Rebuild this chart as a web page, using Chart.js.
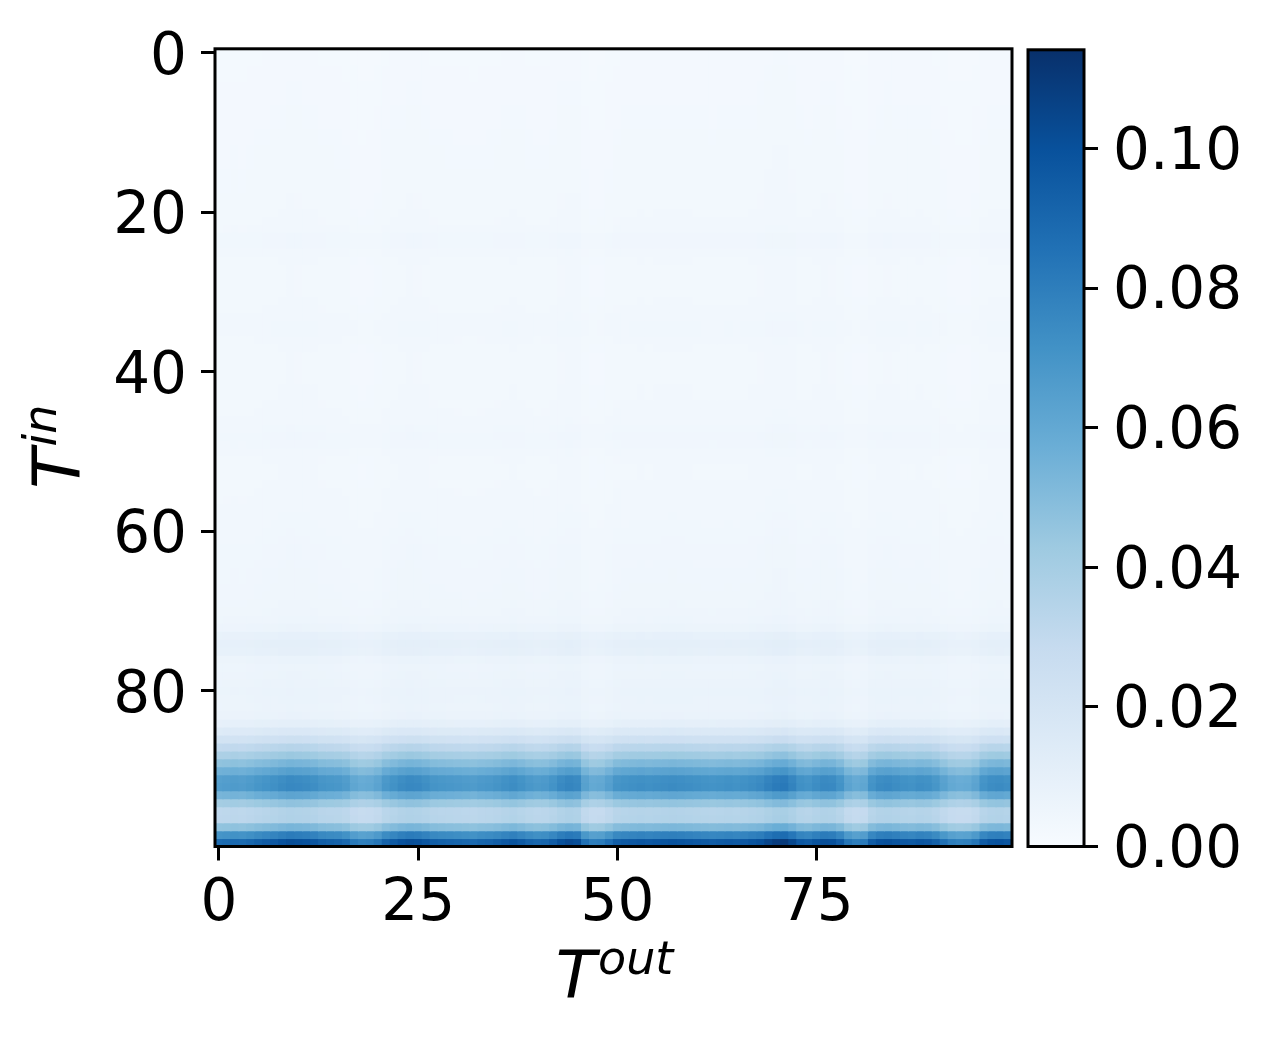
<!DOCTYPE html>
<html>
<head>
<meta charset="utf-8">
<script src="https://cdn.jsdelivr.net/npm/chart.js@4"></script>
<style>
  body { margin: 0; background: #fff; }
  #wrap { position: relative; width: 1273px; height: 1043px; }
  #heat { position: absolute; left: 0; top: 0; }
  #cbar { position: absolute; left: 1000px; top: 0; }
</style>
</head>
<body>
<div id="wrap">
  <canvas id="heat" width="1273" height="1043"></canvas>
  <canvas id="cbar" width="273" height="1043"></canvas>
</div>
<script>
// T_out positions (columns) and T_in positions (rows)
var tOut = Array.from({ length: 100 }, function (_, i) { return String(i); });

// level of each input row (row 0 at the top)
var rowLevel = [
  0.0022, 0.0022, 0.0023, 0.0023, 0.0024, 0.0024, 0.0024, 0.0025, 0.0025, 0.0025,
  0.0026, 0.0026, 0.0027, 0.0027, 0.0027, 0.0028, 0.0028, 0.0028, 0.0029, 0.0029,
  0.0030, 0.0031, 0.0033, 0.0040, 0.0040, 0.0034, 0.0030, 0.0029, 0.0029, 0.0029,
  0.0029, 0.0030, 0.0031, 0.0034, 0.0036, 0.0036, 0.0032, 0.0030, 0.0029, 0.0029,
  0.0029, 0.0029, 0.0030, 0.0030, 0.0031, 0.0032, 0.0034, 0.0037, 0.0040, 0.0039,
  0.0034, 0.0031, 0.0030, 0.0030, 0.0031, 0.0032, 0.0033, 0.0034, 0.0035, 0.0036,
  0.0037, 0.0038, 0.0040, 0.0040, 0.0041, 0.0042, 0.0042, 0.0043, 0.0044, 0.0046,
  0.0048, 0.0052, 0.0062, 0.0090, 0.0102, 0.0096, 0.0068, 0.0060, 0.0062, 0.0066,
  0.0070, 0.0068, 0.0066, 0.0072, 0.0100, 0.0155, 0.0225, 0.0315, 0.0400, 0.0495,
  0.0590, 0.0685, 0.0695, 0.0570, 0.0430, 0.0330, 0.0335, 0.0490, 0.0745, 0.0930
];

// relative strength of each output column
var colFactor = [
  0.94, 0.95, 0.96, 0.95, 0.97, 1.00, 1.02, 1.04, 1.07, 1.09,
  1.08, 1.07, 1.05, 1.01, 1.00, 0.99, 0.96, 0.88, 0.85, 0.86,
  0.90, 0.99, 1.03, 1.07, 1.09, 1.08, 1.05, 1.01, 1.00, 0.99,
  0.98, 0.97, 0.96, 0.98, 0.99, 1.01, 1.04, 1.06, 1.03, 0.99,
  0.97, 0.98, 1.02, 1.08, 1.11, 1.09, 0.92, 0.86, 0.87, 0.93,
  1.01, 1.03, 1.04, 1.05, 1.04, 1.05, 1.06, 1.07, 1.06, 1.05,
  1.04, 1.03, 1.02, 1.03, 1.04, 1.03, 1.04, 1.06, 1.08, 1.13,
  1.17, 1.18, 1.12, 1.04, 1.02, 1.06, 1.09, 1.08, 1.02, 0.90,
  0.86, 0.88, 1.02, 1.07, 1.08, 1.06, 1.04, 1.03, 1.05, 1.04,
  1.00, 0.92, 0.86, 0.84, 0.85, 0.90, 1.02, 1.06, 1.07, 1.05
];

var xTicks = [0, 25, 50, 75];
var yTicks = [0, 20, 40, 60, 80];
var cbTicks = [0, 0.02, 0.04, 0.06, 0.08, 0.10];
var vmax = 0.1142;

// matplotlib "Blues"
var blueStops = ['#f7fbff', '#deebf7', '#c6dbef', '#9ecae1', '#6baed6', '#4292c6', '#2171b5', '#08519c', '#08306b'];

function hexToRgb(h) {
  return [parseInt(h.slice(1, 3), 16), parseInt(h.slice(3, 5), 16), parseInt(h.slice(5, 7), 16)];
}
var blueRgb = blueStops.map(hexToRgb);

function blues(t) {
  t = Math.max(0, Math.min(1, t));
  var p = t * (blueRgb.length - 1);
  var i = Math.min(Math.floor(p), blueRgb.length - 2);
  var f = p - i;
  var a = blueRgb[i], b = blueRgb[i + 1];
  return 'rgb(' + Math.round(a[0] + (b[0] - a[0]) * f) + ',' +
    Math.round(a[1] + (b[1] - a[1]) * f) + ',' +
    Math.round(a[2] + (b[2] - a[2]) * f) + ')';
}

var tickFont = { family: 'DejaVu Sans', size: 58 };

// one floating-bar dataset per input row
var datasets = rowLevel.map(function (lv, r) {
  return {
    label: 'T_in ' + r,
    data: colFactor.map(function () { return [r - 0.5, r + 0.5]; }),
    backgroundColor: colFactor.map(function (f) { return blues(lv * f / vmax); }),
    borderWidth: 0,
    inflateAmount: 0.6,
    grouped: false,
    categoryPercentage: 1,
    barPercentage: 1
  };
});

function tickGrid(off) {
  return { display: true, offset: off, drawOnChartArea: false, drawTicks: true, tickLength: 14, tickWidth: 3, color: '#000' };
}

var framePlugin = {
  id: 'frame',
  afterDraw: function (chart) {
    var a = chart.chartArea, ctx = chart.ctx;
    ctx.save();
    ctx.strokeStyle = '#000';
    ctx.lineWidth = 3;
    ctx.strokeRect(a.left, a.top, a.right - a.left, a.bottom - a.top);
    ctx.restore();
  }
};

function drawSupLabel(ctx, base, sup, cx, baseY) {
  ctx.font = 'italic 66px "DejaVu Sans"';
  var wb = ctx.measureText(base).width;
  ctx.font = 'italic 46px "DejaVu Sans"';
  var ws = ctx.measureText(sup).width;
  var x0 = cx - (wb + ws) / 2;
  ctx.textBaseline = 'alphabetic';
  ctx.textAlign = 'left';
  ctx.font = 'italic 66px "DejaVu Sans"';
  ctx.fillText(base, x0, baseY);
  ctx.font = 'italic 46px "DejaVu Sans"';
  ctx.fillText(sup, x0 + wb + 2, baseY - 24);
}

var labelPlugin = {
  id: 'axisLabels',
  afterDraw: function (chart) {
    var a = chart.chartArea, ctx = chart.ctx;
    ctx.save();
    ctx.fillStyle = '#000';
    drawSupLabel(ctx, 'T', 'out', (a.left + a.right) / 2, 998);
    ctx.translate(80, (a.top + a.bottom) / 2);
    ctx.rotate(-Math.PI / 2);
    drawSupLabel(ctx, 'T', 'in', 0, 0);
    ctx.restore();
  }
};

new Chart(document.getElementById('heat').getContext('2d'), {
  type: 'bar',
  data: { labels: tOut, datasets: datasets },
  options: {
    responsive: false,
    animation: false,
    devicePixelRatio: 1,
    layout: { padding: { left: 0, top: 47.5, right: 261, bottom: 96.5 } },
    plugins: { legend: { display: false }, tooltip: { enabled: false } },
    scales: {
      x: {
        type: 'category',
        offset: true,
        grid: tickGrid(false),
        border: { display: false },
        ticks: {
          autoSkip: false,
          maxRotation: 0,
          padding: 10,
          color: '#000',
          font: tickFont,
          callback: function (v, i) { return xTicks.indexOf(i) >= 0 ? String(i) : null; }
        },
        afterFit: function (s) { s.height = 100; }
      },
      y: {
        type: 'linear',
        reverse: true,
        min: -0.5,
        max: 99.5,
        grid: tickGrid(false),
        border: { display: false },
        afterBuildTicks: function (s) { s.ticks = yTicks.map(function (v) { return { value: v }; }); },
        ticks: { padding: 14, labelOffset: 6, color: '#000', font: tickFont },
        afterFit: function (s) { s.width = 215; }
      }
    }
  },
  plugins: [framePlugin, labelPlugin]
});

// colour bar
new Chart(document.getElementById('cbar').getContext('2d'), {
  type: 'bar',
  data: {
    labels: ['cb'],
    datasets: [{
      data: [[0, vmax]],
      borderWidth: 0,
      categoryPercentage: 1,
      barPercentage: 1,
      backgroundColor: function (c) {
        var ch = c.chart;
        if (!ch.chartArea) return blues(0.5);
        var ys = ch.scales.y;
        var g = ch.ctx.createLinearGradient(0, ys.getPixelForValue(0), 0, ys.getPixelForValue(vmax));
        blueStops.forEach(function (col, i) { g.addColorStop(i / (blueStops.length - 1), col); });
        return g;
      }
    }]
  },
  options: {
    responsive: false,
    animation: false,
    devicePixelRatio: 1,
    layout: { padding: { left: 28, top: 47.5, right: 0, bottom: 196.5 } },
    plugins: { legend: { display: false }, tooltip: { enabled: false } },
    scales: {
      x: { display: false, offset: true },
      y: {
        position: 'right',
        min: 0,
        max: vmax,
        grid: tickGrid(false),
        border: { display: false },
        afterBuildTicks: function (s) { s.ticks = cbTicks.map(function (v) { return { value: v }; }); },
        ticks: {
          padding: 15,
          labelOffset: 5,
          color: '#000',
          font: tickFont,
          callback: function (v) { return v.toFixed(2); }
        },
        afterFit: function (s) { s.width = 189; }
      }
    }
  },
  plugins: [framePlugin]
});
</script>
</body>
</html>
